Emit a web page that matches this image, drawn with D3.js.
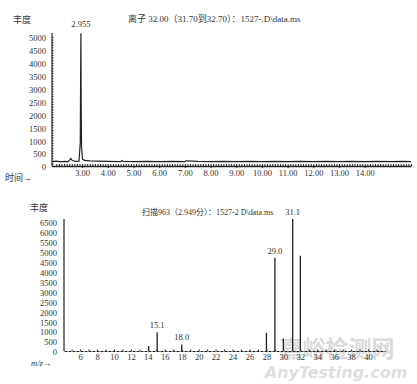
<!DOCTYPE html>
<html lang="zh">
<head>
<meta charset="utf-8">
<script src="https://unpkg.com/d3@7/dist/d3.min.js"></script>
<style>
  body { margin: 0; background: #fff; }
  svg { display: block; }
  .axis path, .axis line { stroke: #222; }
</style>
</head>
<body>
<div id="chart"></div>
<script>
// ---- top: ion chromatogram (time in min, abundance) ----
const ticTime = [1.85, 2.0, 2.15, 2.3, 2.45, 2.52, 2.56, 2.62, 2.75, 2.88, 2.93, 2.945, 2.955, 2.965, 2.98, 3.02, 3.1, 3.3, 3.6, 4.0, 4.5, 4.55, 4.6, 5.0, 5.5, 6.0, 6.5, 7.0, 7.05, 7.5, 8.0, 8.5, 9.0, 9.5, 10.0, 10.5, 11.0, 11.5, 12.0, 12.5, 13.0, 13.5, 14.0, 14.5, 15.0, 15.5, 15.8];
const ticAbund = [170, 190, 160, 180, 170, 240, 290, 210, 180, 190, 900, 3600, 5150, 2400, 700, 260, 220, 200, 190, 180, 170, 210, 180, 170, 180, 170, 180, 170, 200, 180, 170, 180, 170, 180, 170, 180, 170, 180, 170, 180, 170, 180, 170, 180, 170, 180, 170];
const topYTicks = d3.range(0, 5001, 500);
const topXTicks = [3, 4, 5, 6, 7, 8, 9, 10, 11, 12, 13, 14];
const peakLabel = { t: 2.955, v: 5150, text: "2.955" };

// ---- bottom: mass spectrum at scan 963 ----
const mzValues = [14.1, 15.1, 18.0, 28.0, 29.0, 30.0, 31.1, 32.0];
const mzAbund = [250, 950, 330, 920, 4700, 630, 6650, 4800];
const mzLabels = [{ mz: 15.1, text: "15.1" }, { mz: 18.0, text: "18.0" }, { mz: 29.0, text: "29.0" }, { mz: 31.1, text: "31.1" }];
const botYTicks = d3.range(0, 6501, 500);
const botXTicks = d3.range(6, 41, 2);

const W = 417, H = 384;
const FONT = "'Liberation Serif', 'Noto Sans CJK SC', serif";
const svg = d3.select("#chart").append("svg").attr("width", W).attr("height", H);

// watermark (behind everything)
const wm = svg.append("g").attr("class", "wm");
wm.append("text").attr("x", 337).attr("y", 357).attr("text-anchor", "middle")
  .style("font-family", "'Noto Sans CJK SC'").style("font-size", "23px").style("font-weight", "bold")
  .style("fill", "#dadada").text("嘉峪检测网");
wm.append("text").attr("x", 336).attr("y", 378).attr("text-anchor", "middle")
  .style("font-family", "'DejaVu Sans'").style("font-size", "16px").style("font-style", "italic").style("font-weight", "bold")
  .style("fill", "#e0e0e0").text("AnyTesting.com");

// ================= top chart =================
const xTop = d3.scaleLinear().domain([1.83, 15.8]).range([52, 411]);
const yTop = d3.scaleLinear().domain([0, 5000]).range([166, 37]);

const gTop = svg.append("g");

gTop.append("line").attr("x1", 52).attr("x2", 52).attr("y1", 33).attr("y2", yTop(0))
  .attr("stroke", "#222").attr("stroke-width", 1.2);
gTop.append("g").attr("class", "axis").attr("transform", "translate(52,0)")
  .call(d3.axisLeft(yTop).tickValues(d3.range(0, 5001, 100)).tickSize(-1.5).tickFormat(""))
  .call(g => g.select(".domain").remove());
gTop.append("g").attr("class", "axis").attr("transform", "translate(52,0)")
  .call(d3.axisLeft(yTop).tickValues(topYTicks).tickSize(0).tickPadding(6).tickFormat(d3.format("d")))
  .call(g => g.select(".domain").remove())
  .call(g => g.selectAll("text").style("font-size", "8.5px").attr("dy", "0.45em"));

// x axis with dense minor ticks
gTop.append("g").attr("class", "axis").attr("transform", `translate(0,${yTop(0)})`)
  .call(d3.axisBottom(xTop).tickValues(d3.range(2.0, 15.81, 0.1)).tickSize(-2).tickSizeOuter(0).tickFormat(""))
  .call(g => g.select(".domain").attr("stroke-width", 1.4));
gTop.append("g").attr("class", "axis").attr("transform", `translate(0,${yTop(0)})`)
  .call(d3.axisBottom(xTop).tickValues(topXTicks).tickSize(2).tickPadding(2).tickFormat(d3.format(".2f")))
  .call(g => g.select(".domain").remove())
  .call(g => g.selectAll("text").style("font-size", "8.5px"));

const line = d3.line().x((d, i) => xTop(ticTime[i])).y(d => yTop(d));
gTop.append("path").datum(ticAbund).attr("d", line)
  .attr("fill", "none").attr("stroke", "#222").attr("stroke-width", 1.2);

gTop.append("text").attr("x", xTop(peakLabel.t)).attr("y", 27).attr("text-anchor", "middle")
  .style("font-size", "8.5px").text(peakLabel.text);
gTop.append("text").attr("x", 13).attr("y", 23).style("font-size", "9px").text("丰度");
gTop.append("text").attr("x", 128).attr("y", 22).style("font-size", "9px")
  .text("离子 32.00（31.70到32.70）：1527-.D\\data.ms");
gTop.append("text").attr("x", 5).attr("y", 181).style("font-size", "9px").text("时间→");

// ================= bottom chart =================
const xBot = d3.scaleLinear().domain([4.1, 42]).range([64, 385]);
const yBot = d3.scaleLinear().domain([0, 6500]).range([351, 222]);

const gBot = svg.append("g");

gBot.append("line").attr("x1", 64).attr("x2", 64).attr("y1", 219).attr("y2", yBot(0))
  .attr("stroke", "#222").attr("stroke-width", 1.2);
gBot.append("g").attr("class", "axis").attr("transform", "translate(64,0)")
  .call(d3.axisLeft(yBot).tickValues(botYTicks).tickSize(0).tickPadding(7).tickFormat(d3.format("d")))
  .call(g => g.select(".domain").remove())
  .call(g => g.selectAll("text").style("font-size", "8.5px").attr("dy", "0.45em"));

gBot.append("g").attr("class", "axis").attr("transform", `translate(0,${yBot(0)})`)
  .call(d3.axisBottom(xBot).tickValues(d3.range(5, 42, 1)).tickSize(-1.5).tickSizeOuter(0).tickFormat(""))
  .call(g => g.select(".domain").attr("stroke-width", 1.2).attr("stroke-dasharray", "3,1"));
gBot.append("g").attr("class", "axis").attr("transform", `translate(0,${yBot(0)})`)
  .call(d3.axisBottom(xBot).tickValues(botXTicks).tickSize(0).tickPadding(3).tickFormat(d3.format("d")))
  .call(g => g.select(".domain").remove())
  .call(g => g.selectAll("text").style("font-size", "8.5px"));

gBot.selectAll("line.bar").data(mzValues).join("line").attr("class", "bar")
  .attr("x1", d => xBot(d)).attr("x2", d => xBot(d))
  .attr("y1", yBot(0)).attr("y2", (d, i) => yBot(mzAbund[i]))
  .attr("stroke", "#222").attr("stroke-width", 1.3);

gBot.selectAll("text.plab").data(mzLabels).join("text").attr("class", "plab")
  .attr("x", d => xBot(d.mz)).attr("y", d => yBot(mzAbund[mzValues.indexOf(d.mz)]) - 4)
  .attr("text-anchor", "middle").style("font-size", "8.5px").text(d => d.text);

gBot.append("text").attr("x", 30).attr("y", 211).style("font-size", "9px").text("丰度");
gBot.append("text").attr("x", 142).attr("y", 215).style("font-size", "8px")
  .text("扫描963（2.949分）：1527-2 D\\data.ms");
gBot.append("text").attr("x", 31).attr("y", 366).style("font-size", "8.5px").style("font-style", "italic").text("m/z→");

// serif look for all chart text
gTop.selectAll("text").style("font-family", FONT).style("fill", "#333");
gBot.selectAll("text").style("font-family", FONT).style("fill", "#333");
</script>
</body>
</html>
